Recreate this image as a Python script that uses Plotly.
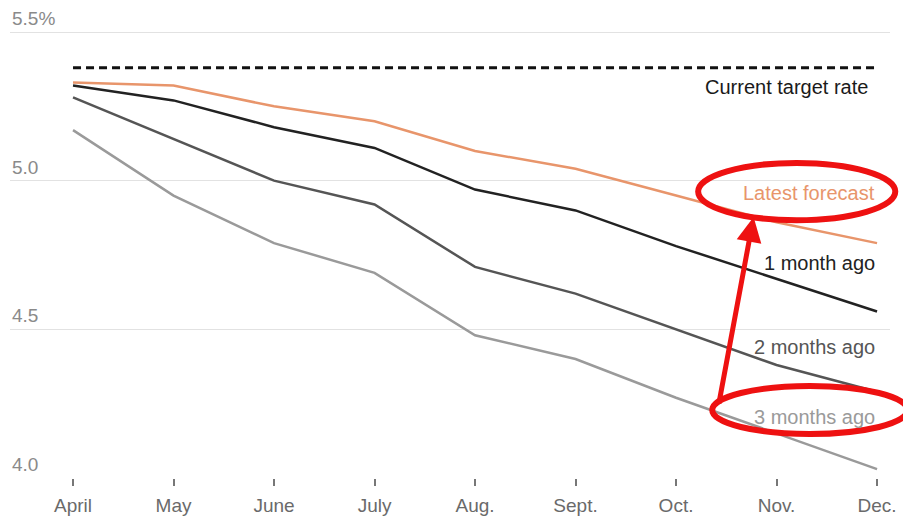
import plotly.graph_objects as go

months = ["April", "May", "June", "July", "Aug.", "Sept.", "Oct.", "Nov.", "Dec."]
target_rate = 5.38

latest = [5.33, 5.32, 5.25, 5.20, 5.10, 5.04, 4.95, 4.86, 4.79]
one_month = [5.32, 5.27, 5.18, 5.11, 4.97, 4.90, 4.78, 4.67, 4.56]
two_months = [5.28, 5.14, 5.00, 4.92, 4.71, 4.62, 4.50, 4.38, 4.29]
three_months = [5.17, 4.95, 4.79, 4.69, 4.48, 4.40, 4.27, 4.15, 4.03]

y_ticks = [4.0, 4.5, 5.0, 5.5]
y_tick_text = ["4.0", "4.5", "5.0", "5.5%"]

series = [
    ("3 months ago", three_months, "#9a9a9a"),
    ("2 months ago", two_months, "#555555"),
    ("1 month ago", one_month, "#222222"),
    ("Latest forecast", latest, "#e8956b"),
]
label_y = {"Latest forecast": 4.957, "1 month ago": 4.722,
           "2 months ago": 4.441, "3 months ago": 4.204}

FONT = "Liberation Sans"
xi = list(range(len(months)))

fig = go.Figure()

fig.add_trace(go.Scatter(
    x=xi, y=[target_rate] * len(months), mode="lines",
    line=dict(color="#111111", width=3, dash="8px,5px"),
    hoverinfo="skip", showlegend=False,
))

for name, vals, color in series:
    fig.add_trace(go.Scatter(
        x=xi, y=vals, mode="lines", name=name,
        line=dict(color=color, width=2.5),
        showlegend=False,
    ))

annotations = []
# y-axis labels sit just above their gridlines at the left edge
for v, t in zip(y_ticks, y_tick_text):
    annotations.append(dict(
        x=0, xref="paper", y=v, yref="y", text=t, showarrow=False,
        xanchor="left", yanchor="bottom", yshift=1,
        font=dict(family=FONT, size=19, color="#8a8a8a"),
    ))

# series labels at the right
annotations.append(dict(
    x=7.93, y=target_rate, xref="x", yref="y", text="Current target rate",
    showarrow=False, xanchor="right", yanchor="middle", yshift=-19,
    font=dict(family=FONT, size=20, color="#1a1a1a"),
))
for name, vals, color in series:
    annotations.append(dict(
        x=8.0, y=label_y[name], xref="x", yref="y", text=name,
        showarrow=False, xanchor="right", yanchor="middle",
        font=dict(family=FONT, size=20, color=color),
    ))

# red arrow from the older forecast up to the latest one
annotations.append(dict(
    x=0.845, y=0.570, xref="paper", yref="paper", text="",
    showarrow=True, ax=-35, ay=188, axref="pixel", ayref="pixel",
    arrowcolor="#ee1111", arrowwidth=5, arrowhead=2, arrowsize=1.0,
))

shapes = [
    dict(type="circle", xref="paper", yref="paper",
         x0=0.782, x1=1.006, y0=0.563, y1=0.688,
         line=dict(color="#ee1111", width=6)),
    dict(type="circle", xref="paper", yref="paper",
         x0=0.798, x1=1.02, y0=0.096, y1=0.201,
         line=dict(color="#ee1111", width=6)),
]

fig.update_layout(
    width=903, height=518,
    margin=dict(l=10, r=13, t=20, b=40),
    paper_bgcolor="white", plot_bgcolor="white",
    annotations=annotations, shapes=shapes,
    xaxis=dict(
        range=[-0.627, 8.129], tickmode="array", tickvals=xi, ticktext=months,
        showgrid=False, zeroline=False, showline=False, automargin=False,
        ticks="outside", ticklen=7, tickwidth=1.5, tickcolor="#777777",
        ticklabelstandoff=3,
        tickfont=dict(family=FONT, size=19, color="#6a6a6a"),
    ),
    yaxis=dict(
        range=[4.0, 5.5404], tickmode="array", tickvals=y_ticks,
        showticklabels=False, showgrid=True, gridcolor="#e2e2e2", gridwidth=1.2,
        zeroline=False, showline=False, automargin=False,
    ),
)

fig.write_html("out.html")
